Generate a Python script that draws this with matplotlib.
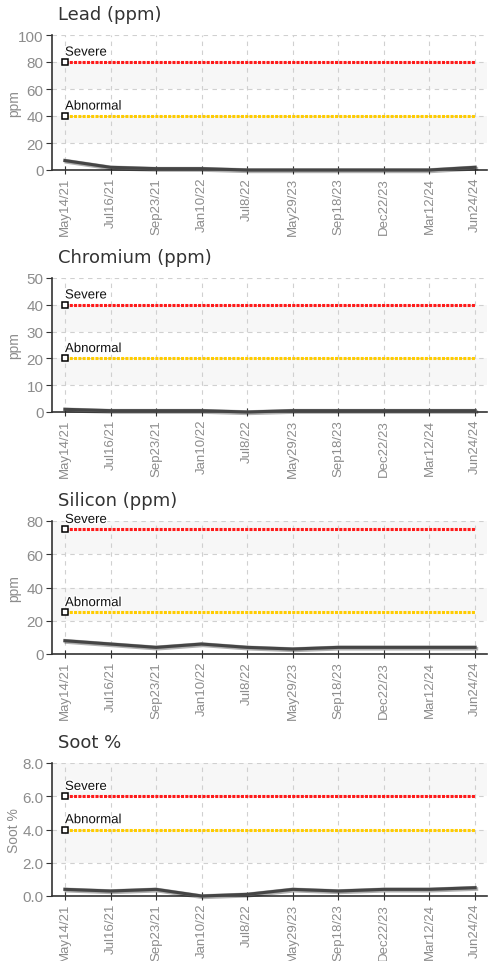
import matplotlib
matplotlib.use('Agg')
from matplotlib import pyplot as plt
import matplotlib.patheffects as pe
import numpy as np

DATES = ['May14/21', 'Jul16/21', 'Sep23/21', 'Jan10/22', 'Jul8/22',
         'May29/23', 'Sep18/23', 'Dec22/23', 'Mar12/24', 'Jun24/24']

LEAD = [7, 2, 1, 1, 0, 0, 0, 0, 0, 2]
CHROMIUM = [1, 0.5, 0.5, 0.5, 0, 0.5, 0.5, 0.5, 0.5, 0.5]
SILICON = [8, 6, 4, 6, 4, 3, 4, 4, 4, 4]
SOOT = [0.4, 0.3, 0.4, 0.0, 0.1, 0.4, 0.3, 0.4, 0.4, 0.5]

TITLES = ['Lead (ppm)', 'Chromium (ppm)', 'Silicon (ppm)', 'Soot %']
YLABELS = ['ppm', 'ppm', 'ppm', 'Soot %']
SEVERE = [80, 40, 75, 6.0]
ABNORMAL = [40, 20, 25, 4.0]
YMAX = [100, 50, 80, 8.0]
YSTEP = [20, 10, 20, 2.0]

narrow = ['Liberation Sans', 'DejaVu Sans']
tick_grey = '#8c8c8c'

fig = plt.figure(figsize=(4.91, 9.62), dpi=100)

# pixel geometry of each panel (top, bottom)
panels_px = [(36, 171), (279, 413), (522, 655), (764, 897)]
left_px, right_px = 52, 487
W, H = 491, 962

series = [LEAD, CHROMIUM, SILICON, SOOT]
x = np.arange(len(DATES))

for i, (top, bot) in enumerate(panels_px):
    ax = fig.add_axes([left_px / W, 1 - bot / H, (right_px - left_px) / W, (bot - top) / H])
    ymax, step = YMAX[i], YSTEP[i]
    ticks = np.arange(0, ymax + step / 2, step)

    # alternating bands
    for k in range(len(ticks) - 1):
        if k % 2 == 1:
            ax.axhspan(ticks[k], ticks[k + 1], color='#f7f7f7', zorder=0, lw=0)

    ax.set_xlim(-0.285, 9.263)
    ax.set_ylim(0, ymax)
    ax.set_yticks(ticks)
    if ymax < 10:
        ax.set_yticklabels(['%.1f' % t for t in ticks])
    else:
        ax.set_yticklabels(['%d' % t for t in ticks])
    ax.set_xticks(x)
    ax.set_xticklabels(DATES, rotation=90)

    ax.grid(True, color='#d0d0d0', linestyle=(0, (4, 4)), linewidth=0.8, zorder=1)
    ax.set_axisbelow(True)

    for s in ['top', 'right']:
        ax.spines[s].set_visible(False)
    for s in ['left', 'bottom']:
        ax.spines[s].set_color('#333333')
        ax.spines[s].set_linewidth(1.2)

    ax.tick_params(axis='y', direction='out', length=4, color='#333333',
                   labelcolor=tick_grey, labelsize=11, pad=2)
    ax.tick_params(axis='x', direction='inout', length=6, color='#333333',
                   labelcolor=tick_grey, labelsize=9.5, pad=2)
    for lab in ax.get_xticklabels() + ax.get_yticklabels():
        lab.set_family(narrow)

    # thresholds
    ax.plot(x, [SEVERE[i]] * len(x), color='#ff1a1a', linestyle=(0, (1, 0.4)),
            linewidth=2.2, zorder=3)
    ax.plot(x, [ABNORMAL[i]] * len(x), color='#ffcc00', linestyle=(0, (1, 0.4)),
            linewidth=2.2, zorder=3)
    ax.plot([0, 0], [SEVERE[i], ABNORMAL[i]], linestyle='none', marker='s',
            markersize=4.5, markerfacecolor='white', markeredgecolor='black',
            markeredgewidth=1.1, zorder=5, clip_on=False)
    halo = [pe.withStroke(linewidth=2, foreground='white')]
    ax.text(0, SEVERE[i] + ymax * 0.025, 'Severe', family=narrow, fontsize=9.5,
            color='#111111', va='bottom', ha='left', path_effects=halo, zorder=6)
    ax.text(0, ABNORMAL[i] + ymax * 0.025, 'Abnormal', family=narrow, fontsize=9.5,
            color='#111111', va='bottom', ha='left', path_effects=halo, zorder=6)

    # data
    ax.plot(x, series[i], color='#888888', linewidth=2.6, alpha=0.6, zorder=3.5,
            clip_on=False, path_effects=[pe.SimpleLineShadow(offset=(1, -1), alpha=0.3),
                                         pe.Normal()])
    ax.plot(x, series[i], color='#454545', linewidth=2.2, zorder=4, clip_on=False)

    ax.set_ylabel(YLABELS[i], color=tick_grey, fontsize=10, family=narrow)
    ax.yaxis.set_label_coords(-0.072, 0.5)

    fig.text(58 / W, 1 - (top - 21) / H, TITLES[i], fontsize=13, color='#333333',
             ha='left', va='center')

fig.savefig('out.png', dpi=100)
